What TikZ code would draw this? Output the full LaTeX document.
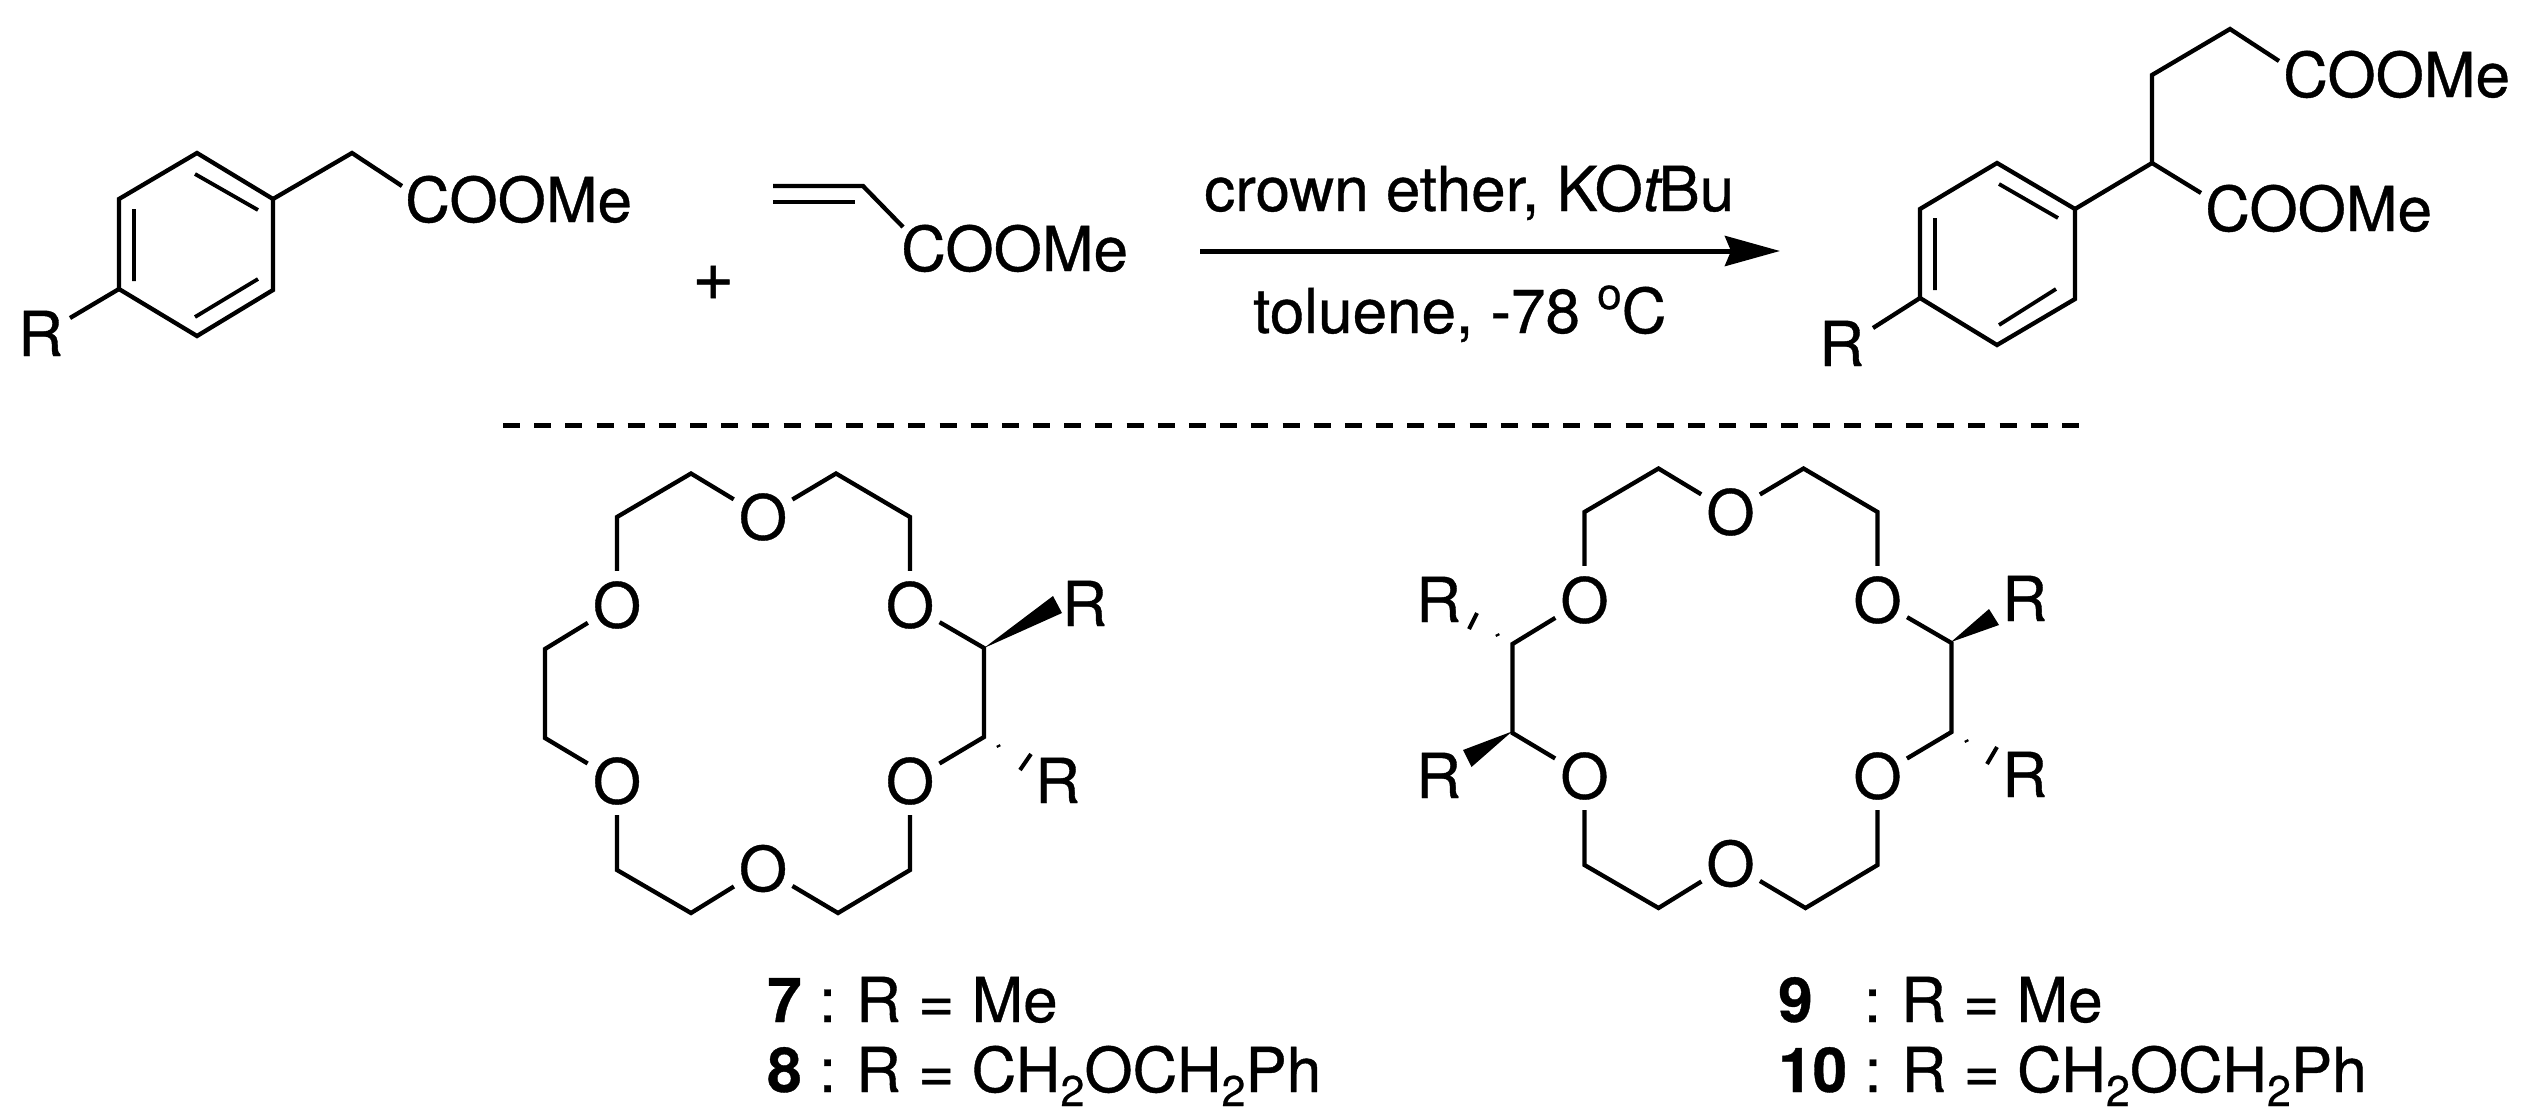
\documentclass[tikz,border=0pt]{standalone}
\usepackage{fontspec}
\setmainfont{TeX Gyre Heros}[RawFeature={embolden=0.6}]
\usetikzlibrary{arrows.meta}

\newcommand{\subtwo}{\raisebox{-14pt}{\fontsize{43}{43}\selectfont 2}}
\newcommand{\crownring}{
  \foreach \name/\x/\y in {ot/763/517, oul/617/605, our/910/605, oll/617/781, olr/910/781, ob/763/868.5}
    \node [oxygen] (\name) at (\x,\y) {O};
  \foreach \name/\x/\y in {c1/691/473.5, c2/836/473.5, c3/617/517, c4/910/517, c5/545/649, c6/545/738,
                           c7/984/648, c8/984/737, c9/617/870, c10/910/870, c11/691/913, c12/838/913}
    \coordinate (\name) at (\x,\y);
  \draw [bond] (oul) -- (c3) -- (c1) -- (ot) -- (c2) -- (c4) -- (our) -- (c7) -- (c8) -- (olr)
    -- (c10) -- (c12) -- (ob) -- (c11) -- (c9) -- (oll) -- (c6) -- (c5) -- (oul);
}

\begin{document}
\begin{tikzpicture}[x=1pt, y=-1pt, >={Stealth[length=55pt, width=30pt, inset=6pt]},
                    bond/.style = {line width=4.3pt},
                    inner/.style = {line width=3.8pt},
                    hash/.style = {line width=4pt},
                    wedge/.style = {fill=black},
                    oxygen/.style = {circle, minimum size=68pt, inner sep=0pt, font=\fontsize{62}{62}\selectfont},
                    label/.style = {anchor=base west, inner sep=0pt, font=\fontsize{62}{62}\selectfont}]
  \useasboundingbox (0,0) rectangle (2532,1117);

  % starting ester
  \foreach \name/\x/\y in {a1/197/153, a2/273/199, a3/273/290, a4/197/336, a5/119/289, a6/119/199,
                           a7/352/153, a8/402/186, a9/70/318}
    \coordinate (\name) at (\x,\y);
  \draw [bond] (a1) -- (a2) -- (a3) -- (a4) -- (a5) -- (a6) -- cycle;
  \draw [bond] (a2) -- (a7) -- (a8);
  \draw [bond] (a5) -- (a9);
  \draw [inner] (195,174) -- (258,210) (134,209) -- (134,281) (258,279) -- (195,317);
  \node [label] (acoo) at (405,222) {COOMe};
  \node [label] (ar) at (18,356) {R};

  \node [label, font=\fontsize{72}{72}\selectfont] (plus) at (692,300) {+};

  % acrylate
  \coordinate (b1) at (773,186);
  \coordinate (b2) at (863,186);
  \coordinate (b3) at (773,202);
  \coordinate (b4) at (855,202);
  \coordinate (b5) at (903,227);
  \draw [bond] (b1) -- (b2) -- (b5);
  \draw [bond] (b3) -- (b4);
  \node [label] (bcoo) at (901,271) {COOMe};

  % reaction arrow
  \coordinate (arrowstart) at (1200,251);
  \coordinate (arrowend) at (1780,251);
  \draw [->, line width=5pt] (arrowstart) -- (arrowend);
  \node [label] (cond1) at (1204,211) {crown ether, KO\textit{t}\kern-4ptBu};
  \node [label] (cond2) at (1253,333) {toluene, -78 \raisebox{24pt}{\fontsize{44}{44}\selectfont o}C};

  % product
  \foreach \name/\x/\y in {p1/1997/163, p2/2075/209, p3/2075/299, p4/1997/345, p5/1920/298, p6/1920/209,
                           p7/2152/163, p8/2152/75, p9/2230/29, p10/2279/61, p11/2201/193, p12/1873/328}
    \coordinate (\name) at (\x,\y);
  \draw [bond] (p1) -- (p2) -- (p3) -- (p4) -- (p5) -- (p6) -- cycle;
  \draw [bond] (p2) -- (p7) -- (p8) -- (p9) -- (p10);
  \draw [bond] (p7) -- (p11);
  \draw [bond] (p5) -- (p12);
  \draw [inner] (1999,184) -- (2058,218) (1935,218) -- (1935,290) (2056,289) -- (1999,325);
  \node [label] (pcooa) at (2283,97) {COOMe};
  \node [label] (pcoob) at (2205,231) {COOMe};
  \node [label] (pr) at (1819,366) {R};

  % dashed separator
  \coordinate (sepstart) at (503,425);
  \coordinate (sepend) at (2079,425);
  \draw [line width=5pt, dash pattern=on 17pt off 14.18pt] (sepstart) -- (sepend);

  % crown 7, 8
  \begin{scope}[name prefix=d-]
    \crownring
    \fill [wedge] (c7) -- (1053,596) -- (1062,613) -- cycle;
    \draw [hash] (998,745) -- (999,747) (1031,754) -- (1020,770);
    \node [label] (r1) at (1062,626) {R};
    \node [label] (r2) at (1035,803) {R};
  \end{scope}
  \node [label] (seven) at (767,1022) {\textbf{7} :\kern-3pt{} R = Me};
  \node [label] (eight) at (767,1092) {\textbf{8} :\kern-3pt{} R = CH\subtwo OCH\subtwo Ph};

  % crown 9, 10
  \begin{scope}[name prefix=e-, xshift=967.5pt, yshift=5pt]
    \crownring
  \end{scope}
  \coordinate (e1) at (1951,642);
  \coordinate (e2) at (1512,731.5);
  \fill [wedge] (e1) -- (1989,609) -- (1999,625) -- cycle;
  \fill [wedge] (e2) -- (1463,750) -- (1471.5,767) -- cycle;
  \draw [hash] (1497,634) -- (1498,636) (1477,613) -- (1469,629);
  \draw [hash] (1966,740) -- (1967,742) (1997,747) -- (1987,764);
  \node [label] (r3) at (2002,621) {R};
  \node [label] (r4) at (2002,797) {R};
  \node [label] (r5) at (1416,622) {R};
  \node [label] (r6) at (1416,798) {R};
  \node [label] (nine) at (1778,1022) {\textbf{9}\hspace{34pt} :\kern-3pt{} R = Me};
  \node [label] (ten) at (1778,1092) {\textbf{10} :\kern-3pt{} R = CH\subtwo OCH\subtwo Ph};
\end{tikzpicture}
\end{document}
